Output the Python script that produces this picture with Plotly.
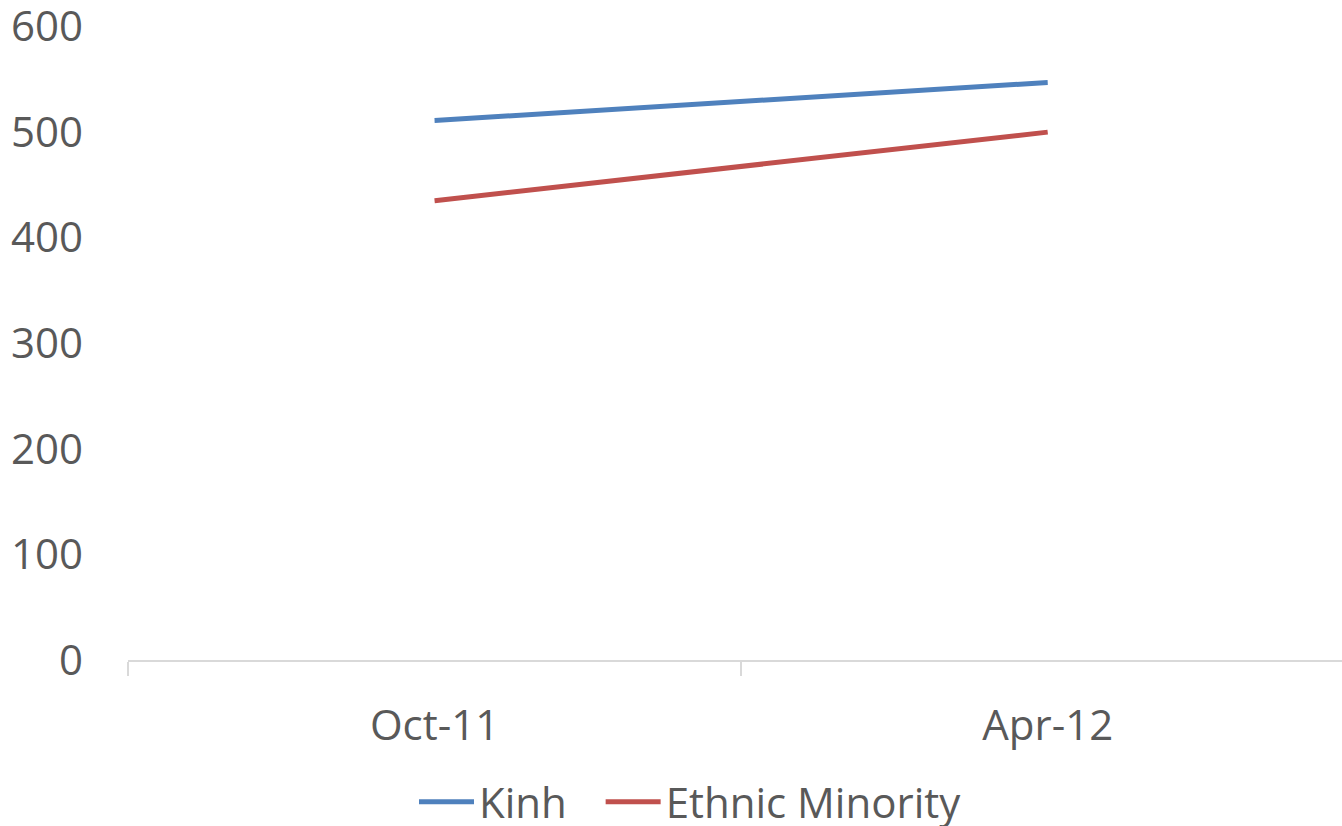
import plotly.graph_objects as go

categories = ["Oct-11", "Apr-12"]
kinh = [511, 547]
ethnic = [435, 500]
y_ticks = [0, 100, 200, 300, 400, 500, 600]
series_names = ["Kinh", "Ethnic Minority"]

xpos = list(range(len(categories)))
FONT = "Open Sans"
TXT = "#595959"
FS = 42

fig = go.Figure()
fig.add_trace(go.Scatter(x=xpos, y=kinh, mode="lines",
                         name=series_names[0] + "\u00a0\u00a0\u2009",
                         line=dict(color="#4F81BD", width=5)))
fig.add_trace(go.Scatter(x=xpos, y=ethnic, mode="lines", name=series_names[1],
                         line=dict(color="#C0504D", width=5)))

fig.update_layout(
    width=1342, height=826,
    margin=dict(l=128, r=0, t=26, b=166, autoexpand=False),
    plot_bgcolor="white", paper_bgcolor="white",
    font=dict(family=FONT, color=TXT, size=FS),
    showlegend=True,
    legend=dict(orientation="h", x=(414 - 128) / 1214, xanchor="left", xref="paper",
                y=24 / 826, yanchor="middle", yref="container",
                font=dict(size=FS, color=TXT),
                itemwidth=55, tracegroupgap=0),
    xaxis=dict(range=[-0.5, 1.48], tickvals=xpos, ticktext=categories,
               showgrid=False, zeroline=False, showline=True, automargin=False,
               linecolor="#D9D9D9", linewidth=2, ticks="",
               ticklabelstandoff=28,
               tickfont=dict(size=FS, color=TXT),
               minor=dict(tickvals=[-0.5, 0.5, 1.5], ticks="outside",
                          ticklen=14, tickwidth=2, tickcolor="#D9D9D9")),
    yaxis=dict(range=[0, 600.5], tickvals=y_ticks,
               showgrid=False, zeroline=False, showline=False, automargin=False,
               ticks="", ticklabelstandoff=44, ticklabeloverflow="allow",
               tickfont=dict(size=FS, color=TXT)),
)

fig.write_html("out.html")
